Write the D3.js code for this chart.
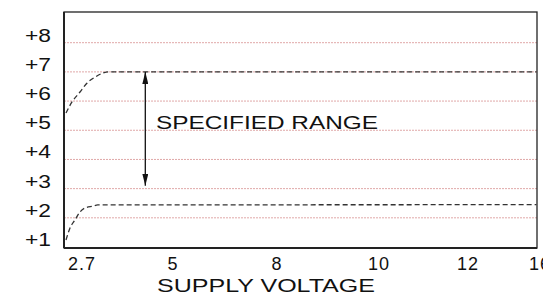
<!DOCTYPE html>
<meta charset="utf-8">
<script src="https://d3js.org/d3.v7.min.js"></script>
<style>
  body { margin: 0; background: #fff; }
  text { font-family: "Liberation Sans", Arial, sans-serif; fill: #111; }
</style>
<svg id="chart" width="543" height="296"></svg>
<script>
// tick labels
var xTicks = [2.7, 5, 8, 10, 12, 16];
var yTicks = [1, 2, 3, 4, 5, 6, 7, 8];

// upper limit curve (supply voltage, value)
var upperX = [2.30, 2.45, 2.65, 2.83, 3.03, 3.23, 3.36, 15.8];
var upperY = [5.59, 5.97, 6.31, 6.62, 6.82, 6.96, 7.00, 7.00];

// lower limit curve
var lowerX = [2.30, 2.40, 2.52, 2.65, 2.78, 2.98, 3.10, 15.8];
var lowerY = [1.24, 1.65, 1.92, 2.20, 2.34, 2.40, 2.44, 2.45];

// specified range arrow
var arrowX = 4.3;
var arrowFrom = 3.1, arrowTo = 7;

var svg = d3.select("#chart");
var mLeft = 64, mRight = 537, mTop = 12, mBottom = 248;

// x axis is not evenly spaced in the original, so piecewise scale
var x = d3.scaleLinear()
    .domain([2.25].concat(xTicks))
    .range([mLeft, 82, 173, 277, 379, 468, 540]);

var y = d3.scaleLinear()
    .domain([1, 8])
    .range([247, 42.7]);

// gridlines
svg.append("g")
    .selectAll("line")
    .data(yTicks.slice(1))
    .enter().append("line")
    .attr("x1", mLeft).attr("x2", mRight)
    .attr("y1", d => y(d)).attr("y2", d => y(d))
    .style("stroke", "#e0a8a8")
    .style("stroke-width", 1)
    .style("stroke-dasharray", "2,1");

// curves
var line = d3.line()
    .x(d => x(d[0]))
    .y(d => y(d[1]))
    .curve(d3.curveMonotoneX);

[[upperX, upperY], [lowerX, lowerY]].forEach(function (s) {
    svg.append("path")
        .datum(s[0].map((v, i) => [v, s[1][i]]))
        .attr("d", line)
        .style("fill", "none")
        .style("stroke", "#333")
        .style("stroke-width", 1.3)
        .style("stroke-dasharray", "5,3");
});

// frame
svg.append("rect")
    .attr("x", mLeft).attr("y", mTop)
    .attr("width", mRight - mLeft).attr("height", mBottom - mTop)
    .style("fill", "none")
    .style("stroke", "#222")
    .style("stroke-width", 1.3);
svg.append("line")
    .attr("x1", mLeft).attr("x2", mLeft).attr("y1", mTop).attr("y2", mBottom)
    .style("stroke", "#222").style("stroke-width", 2);
svg.append("line")
    .attr("x1", mLeft).attr("x2", mRight).attr("y1", mBottom).attr("y2", mBottom)
    .style("stroke", "#222").style("stroke-width", 2);

// arrow
svg.append("defs").append("marker")
    .attr("id", "head")
    .attr("viewBox", "0 0 10 10")
    .attr("preserveAspectRatio", "none")
    .attr("refX", 10).attr("refY", 5)
    .attr("markerWidth", 12).attr("markerHeight", 6)
    .attr("markerUnits", "userSpaceOnUse")
    .attr("orient", "auto-start-reverse")
    .append("path")
    .attr("d", "M0,0L10,5L0,10Z")
    .style("fill", "#111");

svg.append("line")
    .attr("x1", x(arrowX)).attr("x2", x(arrowX))
    .attr("y1", y(arrowFrom)).attr("y2", y(arrowTo))
    .attr("marker-start", "url(#head)")
    .attr("marker-end", "url(#head)")
    .style("stroke", "#111")
    .style("stroke-width", 1.3);

svg.append("text")
    .attr("x", 156).attr("y", 129)
    .attr("textLength", 222)
    .attr("lengthAdjust", "spacingAndGlyphs")
    .style("font-size", "19px")
    .text("SPECIFIED RANGE");

// y labels
svg.append("g")
    .selectAll("text")
    .data(yTicks)
    .enter().append("text")
    .attr("x", 51)
    .attr("y", d => y(d) - 1)
    .attr("text-anchor", "end")
    .attr("textLength", 26)
    .attr("lengthAdjust", "spacingAndGlyphs")
    .style("font-size", "18px")
    .text(d => "+" + d);

// x labels
svg.append("g")
    .selectAll("text")
    .data(xTicks)
    .enter().append("text")
    .attr("x", d => x(d))
    .attr("y", 270)
    .attr("text-anchor", "middle")
    .style("font-size", "18px")
    .style("letter-spacing", "1px")
    .text(d => d);

svg.append("text")
    .attr("x", 157).attr("y", 292)
    .attr("textLength", 218)
    .attr("lengthAdjust", "spacingAndGlyphs")
    .style("font-size", "18px")
    .text("SUPPLY VOLTAGE");
</script>
